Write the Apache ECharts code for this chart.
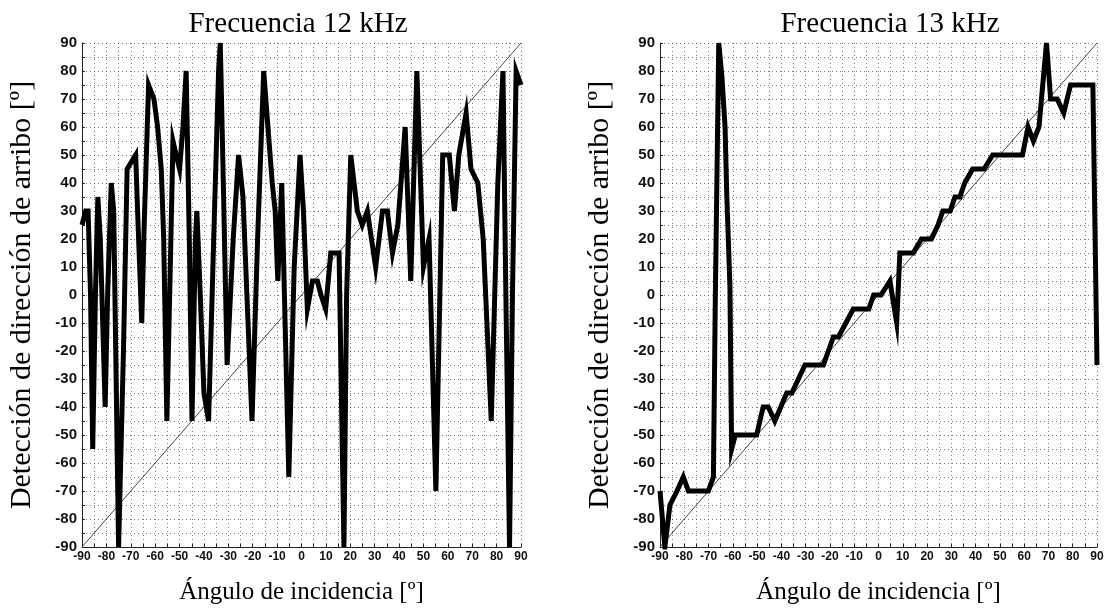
<!DOCTYPE html>
<html>
<head>
<meta charset="utf-8">
<script src="https://cdn.jsdelivr.net/npm/echarts@6/dist/echarts.min.js"></script>
<style>
html,body{margin:0;padding:0;background:#fff;}
#c{width:1107px;height:610px;}
</style>
</head>
<body>
<div id="c"></div>
<script>
// ---- data ----
const titles = ['Frecuencia 12 kHz', 'Frecuencia 13 kHz'];
const xName = 'Ángulo de incidencia [º]';
const yName = 'Detección de dirección de arribo [º]';
const axisMin = -90, axisMax = 90;

const x12 = [-90,-88.5,-87.5,-86.5,-85.6,-84.5,-83.5,-82.5,-80.5,-79.5,-78,-77,-75,-73,-71.5,-68,-67,-65.5,-64.5,-62.7,-60.5,-59,-57.5,-56.5,-55.2,-53.8,-52.7,-51.4,-50,-48.6,-47.3,-46,-44.9,-43.5,-42.9,-41.5,-40,-38.1,-36,-34,-33.3,-32.3,-30.5,-28,-25.8,-24,-20.3,-18,-15.5,-14.2,-12,-10.8,-9.7,-8.1,-5.2,-3,-0.6,0.8,2.4,4.5,6.5,8,9.9,12,15.4,17.4,18.5,20.2,22.9,24.9,27,30.4,33.2,35.2,37.3,39.5,42.5,44.8,47.3,50,52.3,55.1,57.9,60.6,62.7,64.5,67.5,69.5,72.3,74.5,77.8,80.5,82.6,83.8,85.3,86.5,88,90];
const y12 = [25,30,30,0,-55,0,35,20,-40,0,40,30,-90,-20,45,50,25,-10,25,75,70,60,45,20,-45,10,55,50,45,60,80,20,-45,20,30,0,-35,-45,20,80,90,50,-25,20,50,35,-45,20,80,65,40,30,5,40,-65,10,50,30,-5,5,5,0,-5,15,15,-90,0,50,30,25,30,10,30,30,15,25,60,5,80,10,20,-70,50,50,30,50,65,45,40,20,-45,40,80,0,-90,0,80,75];

const x13 = [-90,-88,-85.9,-83,-80.4,-78.3,-70.1,-68,-67.2,-65.8,-64.5,-63.2,-62.5,-61.2,-60.5,-59,-50.2,-47.5,-45.4,-42.7,-37.8,-35.7,-30.3,-22.7,-18.6,-16.5,-10.4,-4,-2,1,4.7,7.5,8.8,14.3,17.7,21.8,24.5,26.5,29.5,31.5,33.5,35.5,38.8,43.5,47,59.3,61.6,63.8,66.1,69.2,70.9,73.6,76.3,79.1,86.7,88.3,90];
const y13 = [-70,-90,-75,-70,-65,-70,-70,-65,0,90,78,60,36,3,-55,-50,-50,-40,-40,-45,-35,-35,-25,-25,-15,-15,-5,-5,0,0,5,-10,15,15,20,20,25,30,30,35,35,40,45,45,50,50,60,55,60,90,70,70,65,75,75,75,-25];

const diag = [[-90,-90],[90,90]];

// ---- chart ----
function pairs(xs, ys){ return xs.map((x,i)=>[x, ys[i]]); }
const chart = echarts.init(document.getElementById('c'), null, {renderer:'canvas'});
const grids = [
  {left:82, top:43, width:439, height:512},
  {left:660, top:43, width:437, height:512}
];
const serif = 'Liberation Serif, Times New Roman';
const gridLine = {show:true, lineStyle:{color:'#222', type:[1,3], width:1, opacity:0.6}};
const labelStyle = {color:'#111', fontFamily:'Liberation Sans, Arial', fontWeight:'bold', fontSize:15};
function xAxis(i){
  return {type:'value', gridIndex:i, min:axisMin, max:axisMax, interval:5,
    name:xName, nameLocation:'middle', nameGap:33,
    nameTextStyle:{fontFamily:serif, fontSize:25, color:'#000'},
    axisLine:{show:true, onZero:false, lineStyle:{color:'#222', width:1}},
    axisTick:{show:true, inside:true, length:3, lineStyle:{color:'#222'}},
    axisLabel:Object.assign({margin:4, formatter:v=> (v%10===0? String(v):'')}, labelStyle, {fontSize:12}),
    splitLine:gridLine};
}
function yAxis(i){
  return {type:'value', gridIndex:i, min:axisMin, max:axisMax, interval:5,
    name:yName, nameLocation:'middle', nameGap:45,
    nameTextStyle:{fontFamily:serif, fontSize:30, color:'#000'},
    axisLine:{show:true, onZero:false, lineStyle:{color:'#222', width:1}},
    axisTick:{show:true, inside:true, length:3, lineStyle:{color:'#222'}},
    axisLabel:Object.assign({margin:5, formatter:v=> (v%10===0? String(v):'')}, labelStyle),
    splitLine:gridLine};
}
const thick = {color:'#000', width:5, join:'miter'};
const titleStyle = {fontFamily:serif, fontSize:29, fontWeight:'normal', color:'#000'};
chart.setOption({
  animation:false,
  backgroundColor:'#fff',
  title:[
    {text:titles[0], left:293, top:5, textAlign:'center', textStyle:titleStyle},
    {text:titles[1], left:885, top:5, textAlign:'center', textStyle:titleStyle}
  ],
  grid:grids,
  xAxis:[xAxis(0), xAxis(1)],
  yAxis:[yAxis(0), yAxis(1)],
  series:[
    {type:'line', xAxisIndex:0, yAxisIndex:0, data:diag, showSymbol:false, lineStyle:{color:'#444', width:1}},
    {type:'line', xAxisIndex:0, yAxisIndex:0, data:pairs(x12,y12), showSymbol:false, lineStyle:thick},
    {type:'line', xAxisIndex:1, yAxisIndex:1, data:diag, showSymbol:false, lineStyle:{color:'#444', width:1}},
    {type:'line', xAxisIndex:1, yAxisIndex:1, data:pairs(x13,y13), showSymbol:false, lineStyle:thick}
  ]
});
</script>
</body>
</html>
